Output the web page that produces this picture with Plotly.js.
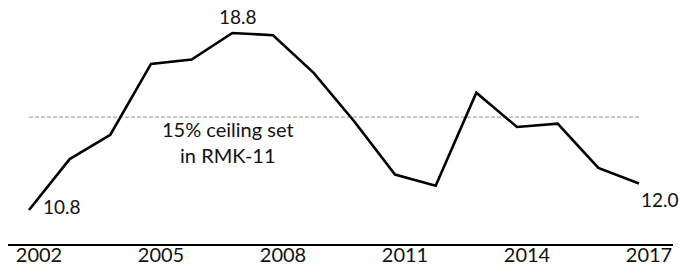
<!DOCTYPE html>
<html>
<head>
<meta charset="utf-8">
<script src="https://cdn.plot.ly/plotly-3.0.1.min.js"></script>
<style>html,body{margin:0;padding:0;background:#fff;}#chart{width:680px;height:266px;}</style>
</head>
<body>
<div id="chart"></div>
<script>
const years = [2002,2003,2004,2005,2006,2007,2008,2009,2010,2011,2012,2013,2014,2015,2016,2017];
const values = [10.8,13.1,14.2,17.4,17.6,18.8,18.7,17.0,14.8,12.4,11.9,16.1,14.55,14.7,12.7,12.0];
const tickYears = [2002,2005,2008,2011,2014,2017];
const tickLabels = ["2002","2005","2008","2011","2014","2017"];
const ceiling = 15;
const ceilingLabel = "15% ceiling set<br>in RMK-11";

const FONT = "Lato, 'Open Sans', sans-serif";
const first = 0, peak = values.indexOf(Math.max(...values)), last = values.length - 1;

const data = [
  {x: years, y: values, type: 'scatter', mode: 'lines',
   line: {color: '#000', width: 2.6}, hoverinfo: 'skip'}
];

const layout = {
  width: 680, height: 266,
  margin: {l: 8, r: 7, t: 0, b: 22},
  paper_bgcolor: '#fff', plot_bgcolor: '#fff',
  showlegend: false,
  font: {family: FONT, color: '#111', size: 19},
  xaxis: {
    range: [2001.4837, 2017.836],
    tickvals: tickYears, ticktext: tickLabels,
    showgrid: false, zeroline: false,
    showline: true, linecolor: '#000', linewidth: 1.5,
    ticks: '', ticklabelshift: 10, ticklabelstandoff: -8,
    tickfont: {family: FONT, size: 20, color: '#111'},
    automargin: false
  },
  yaxis: {
    range: [9.263, 20.29],
    visible: false, showgrid: false, zeroline: false,
    automargin: false
  },
  shapes: [
    {type: 'line', xref: 'x', yref: 'y', x0: years[0], x1: years[last], y0: ceiling, y1: ceiling,
     line: {color: '#aaa', width: 1.2, dash: '4px,2px'}, layer: 'below'}
  ],
  annotations: [
    {x: years[first], y: values[first], xref: 'x', yref: 'y', text: values[first].toFixed(1),
     showarrow: false, xanchor: 'left', yanchor: 'middle', xshift: 12, yshift: 3,
     font: {family: FONT, size: 19, color: '#111'}},
    {x: years[peak], y: values[peak], xref: 'x', yref: 'y', text: values[peak].toFixed(1),
     showarrow: false, xanchor: 'center', yanchor: 'bottom', xshift: 6, yshift: 3,
     font: {family: FONT, size: 19, color: '#111'}},
    {x: years[last], y: values[last], xref: 'x', yref: 'y', text: values[last].toFixed(1),
     showarrow: false, xanchor: 'left', yanchor: 'top', xshift: 0, yshift: -3,
     font: {family: FONT, size: 19, color: '#111'}},
    {x: 2006.9, y: ceiling, xref: 'x', yref: 'y', text: ceilingLabel,
     showarrow: false, xanchor: 'center', yanchor: 'top', yshift: 2,
     font: {family: FONT, size: 20, color: '#111'}}
  ]
};

Plotly.newPlot('chart', data, layout, {staticPlot: true, displayModeBar: false});
</script>
</body>
</html>
